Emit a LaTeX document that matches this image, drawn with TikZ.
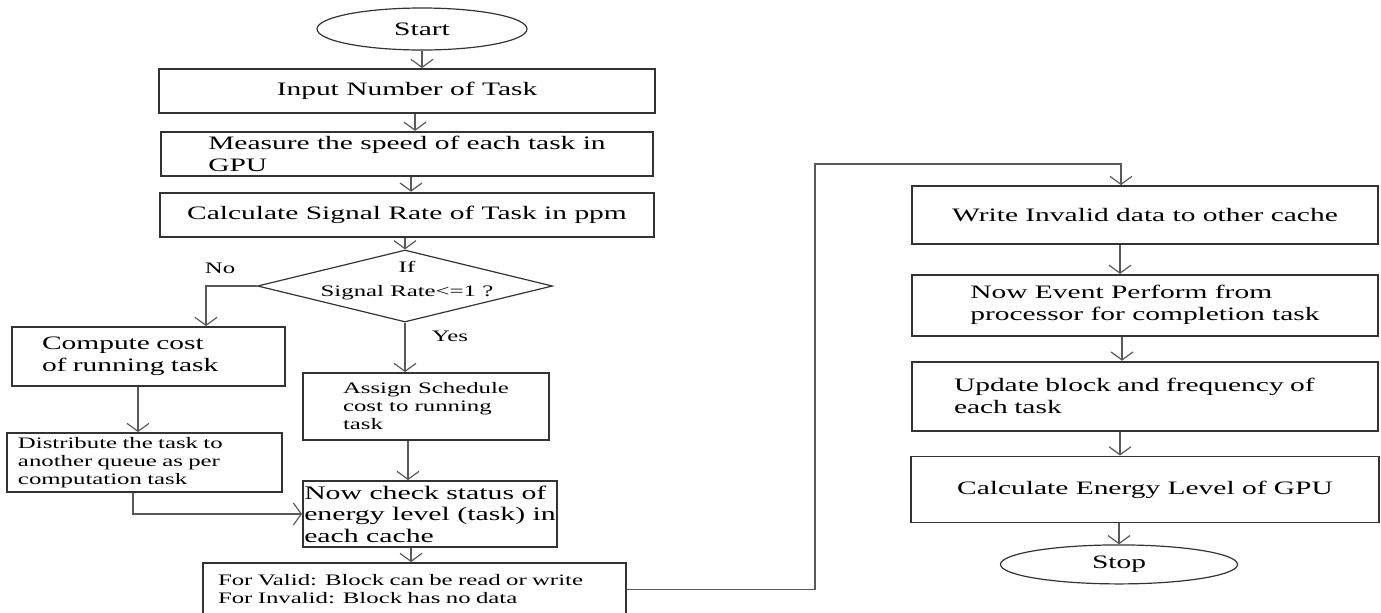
\documentclass[tikz,border=0pt]{standalone}
\usepackage{fontspec}
\setmainfont{Liberation Serif}[FakeStretch=1.55]
\usetikzlibrary{arrows.meta,positioning,shapes.geometric}

\begin{document}
\begin{tikzpicture}[
  x=0.5pt, y=-0.5pt,
  box/.style={rectangle, draw=black!80, line width=0.9pt, inner xsep=2pt, inner ysep=1pt, align=center, font=\fontsize{9.5}{11}\selectfont},
  smallbox/.style={box, font=\fontsize{8}{9}\selectfont},
  term/.style={ellipse, draw=black!80, line width=0.6pt, inner sep=0pt, font=\fontsize{9.5}{11}\selectfont},
  decision/.style={diamond, draw=black!80, line width=0.6pt, inner sep=0pt},
  lbl/.style={inner sep=0pt, font=\fontsize{8}{9}\selectfont},
  arr/.style={-{Straight Barb[length=4pt,width=11pt]}, draw=black!65, line width=0.6pt}
]
  \useasboundingbox (0,0) rectangle (1381,612);
  \clip (0,0) rectangle (1381,612);

  % left column
  \node[term, minimum width=105pt, minimum height=21pt] (start) at (422,29) {Start};
  \node[box, minimum width=248pt, minimum height=22pt] (input) at (407,91) {Input Number of Task};
  \node[box, align=left, minimum width=246pt, minimum height=22pt, below=8.5pt of input] (measure) {Measure the speed of each task in\\GPU};
  \node[box, minimum width=247pt, minimum height=22pt, below=7.5pt of measure] (rate) {Calculate Signal Rate of Task in ppm};
  \node[decision, minimum width=147.5pt, minimum height=36pt] (check) at (405,286) {};
  \node[lbl, align=center] (checktext) at (407,281) {If\\[3pt]Signal Rate<=1 ?};
  \node[lbl] (no) at (220,268) {No};
  \node[lbl] (yes) at (450,336) {Yes};

  \node[box, text width=106.5pt, align=left, minimum width=136.5pt, minimum height=29.5pt] (compute) at (148.5,356.5) {Compute cost\\of running task};
  \node[smallbox, text width=126.5pt, align=left, minimum width=137.5pt, minimum height=29.5pt] (dist) at (144.5,462.5) {Distribute the task to\\another queue as per\\computation task};
  \node[smallbox, align=left, minimum width=123pt, minimum height=33.5pt] (assign) at (426,406.5) {Assign Schedule\\cost to running\\task};
  \node[box, align=left, inner xsep=0pt, font=\fontsize{9.6}{10.75}\selectfont, minimum width=127pt, minimum height=33pt] (nowcheck) at (430,514) {Now check status of\\energy level (task) in\\each cache};
  \node[smallbox, text width=196.5pt, align=left, minimum width=211.5pt, minimum height=26.5pt] (valid) at (414.5,589.5) {For Valid: Block can be read or write\\For Invalid: Block has no data};

  % right column
  \node[box, minimum width=233pt, minimum height=29pt] (write) at (1145,215) {Write Invalid data to other cache};
  \node[box, align=left, minimum width=233pt, minimum height=30.5pt, below=14.5pt of write] (event) {Now Event Perform from\\processor for completion task};
  \node[box, text width=191pt, align=left, minimum width=233pt, minimum height=34.5pt, below=12pt of event] (update) {Update block and frequency of\\each task};
  \node[box, minimum width=234pt, minimum height=33pt, below=12pt of update] (energy) {Calculate Energy Level of GPU};
  \node[term, minimum width=118.5pt, minimum height=19.5pt, below=10.5pt of energy, xshift=-13pt] (stop) {Stop};

  % connectors
  \draw[arr] (start) -- (start |- input.north);
  \draw[arr] ([xshift=4pt]input.south) -- ([xshift=4pt]input.south |- measure.north);
  \draw[arr] ([xshift=2pt]measure.south) -- ([xshift=2pt]measure.south |- rate.north);
  \draw[arr] (rate.south -| check.north) -- (check.north);
  \draw[arr] (check.west) -| ([xshift=28.75pt]compute.north);
  \draw[arr] (check.south) -- (check.south |- assign.north);
  \draw[arr] ([xshift=-5.25pt]compute.south) -- ([xshift=-5.25pt]compute.south |- dist.north);
  \draw[arr] ([xshift=-5.75pt]dist.south) |- (nowcheck.west);
  \draw[arr] ([xshift=-9pt]assign.south) -- ([xshift=-9pt]assign.south |- nowcheck.north);
  \draw[arr] ([xshift=-9.5pt]nowcheck.south) -- ([xshift=-9.5pt]nowcheck.south |- valid.north);
  \coordinate (turn) at (815,164);
  \draw[arr] (valid.east) -| (turn) -| ([xshift=-12pt]write.north);
  \draw[arr] ([xshift=-12.5pt]write.south) -- ([xshift=-12.5pt]write.south |- event.north);
  \draw[arr] ([xshift=-11.5pt]event.south) -- ([xshift=-11.5pt]event.south |- update.north);
  \draw[arr] ([xshift=-12.5pt]update.south) -- ([xshift=-12.5pt]update.south |- energy.north);
  \draw[arr] (stop.north |- energy.south) -- (stop.north);
\end{tikzpicture}
\end{document}
